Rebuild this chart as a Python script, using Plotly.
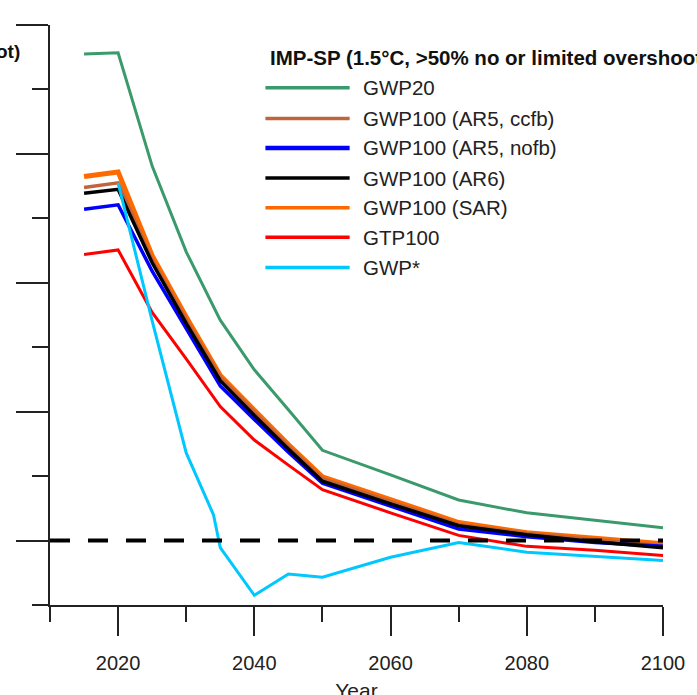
import plotly.graph_objects as go

years = [2015, 2020, 2025, 2030, 2035, 2040, 2045, 2050, 2060, 2070, 2080, 2090, 2100]
gwpstar_years = [2020, 2025, 2030, 2034, 2035, 2040, 2045, 2050, 2060, 2070, 2080, 2090, 2100]

gwp20 = [75.5, 75.7, 58.1, 44.8, 34.2, 26.5, 20.3, 14.0, 10.2, 6.3, 4.3, 3.2, 2.0]
gwp100_ar5_ccfb = [54.8, 55.5, 43.5, 34.2, 25.3, 19.9, 14.6, 9.6, 6.0, 2.5, 1.1, 0.2, -0.8]
gwp100_ar5_nofb = [51.4, 52.1, 41.8, 32.8, 24.0, 18.8, 13.7, 8.9, 5.4, 1.8, 0.6, -0.3, -0.9]
gwp100_ar6 = [53.9, 54.5, 43.1, 33.7, 24.8, 19.4, 14.2, 9.2, 5.7, 2.3, 0.9, -0.2, -1.1]
gwp100_sar = [56.5, 57.2, 44.2, 34.7, 25.6, 20.2, 14.9, 9.9, 6.3, 2.8, 1.2, 0.3, -0.5]
gtp100 = [44.4, 45.1, 35.4, 28.2, 20.8, 15.6, 11.7, 7.9, 4.3, 0.8, -0.9, -1.5, -2.3]
gwp_star = [55.5, 34.1, 13.6, 4.0, -1.1, -8.5, -5.2, -5.7, -2.6, -0.3, -1.8, -2.5, -3.1]

legend_title = "IMP-SP (1.5°C, >50% no or limited overshoot)"
legend_names = ["GWP20", "GWP100 (AR5, ccfb)", "GWP100 (AR5, nofb)", "GWP100 (AR6)",
                "GWP100 (SAR)", "GTP100", "GWP*"]
colors = {
    "GWP20": "#3b9a6b",
    "GWP100 (AR5, ccfb)": "#c0643c",
    "GWP100 (AR5, nofb)": "#0000ff",
    "GWP100 (AR6)": "#000000",
    "GWP100 (SAR)": "#ff6a00",
    "GTP100": "#ff0000",
    "GWP*": "#00c8ff",
}
legend_widths = [3.5, 3.5, 4.5, 3.5, 3.5, 3.5, 3.5]

x_ticks = [2020, 2040, 2060, 2080, 2100]
x_ticktext = ["2020", "2040", "2060", "2080", "2100"]
y_ticks = [0, 20, 40, 60, 80]

fig = go.Figure()

# draw order: orange below, black on top of bundle
draw = [
    ("GWP100 (SAR)", years, gwp100_sar, 5),
    ("GWP100 (AR5, ccfb)", years, gwp100_ar5_ccfb, 3.5),
    ("GWP100 (AR5, nofb)", years, gwp100_ar5_nofb, 3.5),
    ("GWP100 (AR6)", years, gwp100_ar6, 3.5),
    ("GTP100", years, gtp100, 3),
    ("GWP20", years, gwp20, 3),
    ("GWP*", gwpstar_years, gwp_star, 3),
]
for name, xs, ys, w in draw:
    fig.add_trace(go.Scatter(x=xs, y=ys, mode="lines", name=name, showlegend=False,
                             line=dict(color=colors[name], width=w), cliponaxis=False))

fig.add_trace(go.Scatter(x=[2010, 2100], y=[0, 0], mode="lines", showlegend=False,
                         line=dict(color="black", width=4, dash="20px,18px")))

# custom legend (long swatches)
L0, L1, TX = 0.3514, 0.4888, 0.508
row_y = [0.892, 0.839, 0.788, 0.736, 0.685, 0.634, 0.582]
shapes = []
annotations = []
for name, yy, w in zip(legend_names, row_y, legend_widths):
    shapes.append(dict(type="line", xref="paper", yref="paper", x0=L0, x1=L1, y0=yy, y1=yy,
                       line=dict(color=colors[name], width=w)))
    annotations.append(dict(xref="paper", yref="paper", x=TX, y=yy, xanchor="left",
                            yanchor="middle", text=name, showarrow=False,
                            font=dict(size=20.5, color="#222")))
annotations.append(dict(xref="paper", yref="paper", x=0.355, y=0.944, xanchor="left",
                        yanchor="middle", text="<b>" + legend_title + "</b>", showarrow=False,
                        font=dict(size=20.5, color="#111")))
annotations.append(dict(xref="paper", yref="paper", x=-0.046, y=0.955, xanchor="right",
                        yanchor="middle", text="<b>ot)</b>", showarrow=False,
                        font=dict(size=19, color="#111")))

fig.update_layout(
    width=697, height=711,
    margin=dict(l=50, r=21, t=25, b=89),
    plot_bgcolor="white", paper_bgcolor="white",
    font=dict(family="Liberation Sans, Arial, sans-serif", color="#222"),
    shapes=shapes, annotations=annotations,
    showlegend=False,
)
fig.update_xaxes(
    range=[2010, 2100], showgrid=False, zeroline=False,
    showline=True, linewidth=2, linecolor="#222",
    tickmode="array", tickvals=x_ticks, ticktext=x_ticktext,
    ticks="outside", ticklen=29, tickwidth=2, tickcolor="#222",
    ticklabelstandoff=10, ticklabeloverflow="allow",
    tickfont=dict(size=20, color="#222"),
    minor=dict(ticks="outside", ticklen=15, tickwidth=2, tickcolor="#222", dtick=10, tick0=2010),
    title=dict(text="Year", font=dict(size=21, color="#222"), standoff=10),
)
fig.update_yaxes(
    range=[-10, 80], showgrid=False, zeroline=False,
    showline=True, linewidth=2, linecolor="#222",
    tickmode="array", tickvals=y_ticks, showticklabels=False,
    ticks="outside", ticklen=32, tickwidth=2, tickcolor="#222",
    minor=dict(ticks="outside", ticklen=16, tickwidth=2, tickcolor="#222", dtick=10, tick0=-10),
)

fig.write_html(
    "out.html",
    config={"displayModeBar": False},
    post_script="document.body.style.margin='0';document.body.style.overflow='hidden';",
)
